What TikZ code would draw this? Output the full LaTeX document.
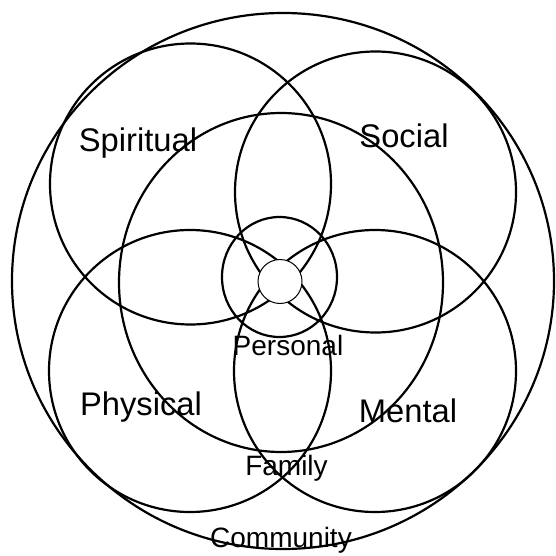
\documentclass[tikz,border=0pt]{standalone}
\usepackage{fontspec}
\setmainfont{Liberation Sans}
\newcommand{\lifearea}[4]{\draw (#1,#2) ellipse (#3pt and #4pt);}

\begin{document}
\begin{tikzpicture}[x = 1pt, y = -1pt, line width = 2.2pt,
  outer label/.style = {anchor = base, inner sep = 0pt, font = \fontsize{32.7}{36}\selectfont},
  inner label/.style = {anchor = base, inner sep = 0pt, font = \fontsize{28}{32}\selectfont}]
\useasboundingbox (0,0) rectangle (555,556);
% community and family
\lifearea{283}{281}{271}{268}
\lifearea{281}{282.5}{162}{169.5}
% the four areas
\lifearea{190.5}{184}{140.5}{140.5}
\lifearea{375.5}{192}{140.5}{140.5}
\lifearea{190}{371}{141}{141}
\lifearea{375}{371}{141}{141}
% personal
\lifearea{279.5}{277}{57.5}{60}
\draw[line width = 1pt, fill = white] (280,281.5) circle (22pt);
\node[outer label] (spiritual) at (138,152) {Spiritual};
\node[outer label] (social) at (404,148) {Social};
\node[outer label] (physical) at (141,415) {Physical};
\node[outer label] (mental) at (408,422) {Mental};
\node[inner label] (personal) at (288,355) {Personal};
\node[inner label] (family) at (286.5,475) {Family};
\node[inner label] (community) at (281,547) {Community};
\end{tikzpicture}
\end{document}
